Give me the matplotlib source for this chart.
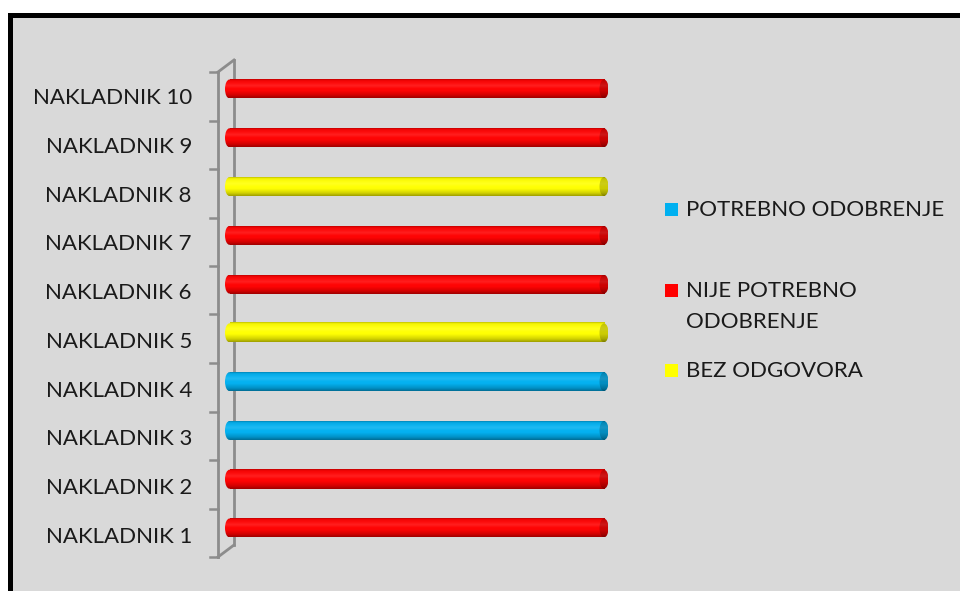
import numpy as np
import matplotlib
matplotlib.use("Agg")
import matplotlib.pyplot as plt
from matplotlib.patches import Rectangle, Ellipse
from matplotlib.lines import Line2D
from matplotlib.colors import to_rgb
from matplotlib.transforms import ScaledTranslation

# ---- data ----
categories = ["NAKLADNIK 1", "NAKLADNIK 2", "NAKLADNIK 3", "NAKLADNIK 4", "NAKLADNIK 5",
              "NAKLADNIK 6", "NAKLADNIK 7", "NAKLADNIK 8", "NAKLADNIK 9", "NAKLADNIK 10"]
values = [1, 1, 1, 1, 1, 1, 1, 1, 1, 1]
status = ["NIJE POTREBNO ODOBRENJE", "NIJE POTREBNO ODOBRENJE", "POTREBNO ODOBRENJE",
          "POTREBNO ODOBRENJE", "BEZ ODGOVORA", "NIJE POTREBNO ODOBRENJE",
          "NIJE POTREBNO ODOBRENJE", "BEZ ODGOVORA", "NIJE POTREBNO ODOBRENJE",
          "NIJE POTREBNO ODOBRENJE"]
legend_labels = ["POTREBNO ODOBRENJE", "NIJE POTREBNO\nODOBRENJE", "BEZ ODGOVORA"]
legend_keys = ["POTREBNO ODOBRENJE", "NIJE POTREBNO ODOBRENJE", "BEZ ODGOVORA"]
colors = {"POTREBNO ODOBRENJE": "#00b0f0",
          "NIJE POTREBNO ODOBRENJE": "#ff0000",
          "BEZ ODGOVORA": "#ffff00"}

W, H = 960, 591
FONT = ["Lato", "DejaVu Sans"]
fig = plt.figure(figsize=(W / 100, H / 100), dpi=100)
fig.patch.set_facecolor("white")

def fx(px):
    return px / W

def fy(py):
    return 1 - py / H

# chart area background with black border (top & left)
fig.patches.append(Rectangle((fx(8), 0), 1, fy(13), transform=fig.transFigure,
                             facecolor="black", edgecolor="none", zorder=-10))
fig.patches.append(Rectangle((fx(13), 0), 1, fy(18), transform=fig.transFigure,
                             facecolor="#d9d9d9", edgecolor="none", zorder=-9))

# axes placement in pixels
ax_l, ax_r, ax_t, ax_b = 210, 620, 60, 560
ax = fig.add_axes([fx(ax_l), fy(ax_b), fx(ax_r - ax_l), (ax_b - ax_t) / H])
ax.set_facecolor("none")
for s in ax.spines.values():
    s.set_visible(False)

# map 0 -> px 225, 1 -> px 604
x0p, x1p = 225, 604
span = (x1p - x0p) / 1.0
a = -(x0p - ax_l) / span
b = a + (ax_r - ax_l) / span
ax.set_xlim(a, b)
# category 0 -> py 528, category 9 -> py 89
pitch = (528 - 89) / 9.0
c = -(ax_b - 528) / pitch
d = c + (ax_b - ax_t) / pitch
ax.set_ylim(c, d)

ypos = np.arange(len(categories))
bar_h = 19 / pitch
bars = ax.barh(ypos, values, height=bar_h, left=0,
               color=[colors[s] for s in status], zorder=2)

ew = 9 / span  # end-cap ellipse width in data units

def gradient_rgb(base, n=64):
    r, g, bb = to_rgb(base)
    base_arr = np.array([r, g, bb])
    t = np.linspace(0, 1, n)  # 0 = top, 1 = bottom
    prof = np.interp(t, [0, 0.07, 0.25, 0.6, 0.85, 1.0],
                        [0.75, 0.95, 1.0, 1.0, 0.82, 0.62])
    hl = np.interp(t, [0, 0.2, 0.35, 0.5, 1.0], [0, 0.05, 0.12, 0.02, 0])
    arr = base_arr[None, :] * prof[:, None]
    arr = arr + (1 - arr) * hl[:, None]
    return np.clip(arr, 0, 1)[:, None, :]

for bar, st in zip(bars, status):
    bx, by = bar.get_x(), bar.get_y()
    bw, bh = bar.get_width(), bar.get_height()
    bar.set_visible(False)
    grad = gradient_rgb(colors[st])
    # left rounded end
    el = Ellipse((bx + ew / 2, by + bh / 2), ew, bh, transform=ax.transData,
                 facecolor="none", edgecolor="none")
    ax.add_patch(el)
    im = ax.imshow(grad, extent=(bx, bx + ew, by, by + bh), aspect="auto",
                   origin="upper", zorder=2, interpolation="bilinear")
    im.set_clip_path(el)
    # body
    ax.imshow(grad, extent=(bx + ew / 2, bx + bw, by, by + bh), aspect="auto",
              origin="upper", zorder=2, interpolation="bilinear")
    # right end cap (darker face)
    er = Ellipse((bx + bw, by + bh / 2), ew, bh, transform=ax.transData,
                 facecolor="none", edgecolor="none")
    ax.add_patch(er)
    dark = np.clip(grad * 0.8, 0, 1)
    im2 = ax.imshow(dark, extent=(bx + bw - ew / 2, bx + bw + ew / 2, by, by + bh),
                    aspect="auto", origin="upper", zorder=3, interpolation="bilinear")
    im2.set_clip_path(er)

ax.set_xticks([])
ax.set_yticks(ypos)
ax.set_yticklabels(categories, fontsize=16, family=FONT, color="#1a1a1a")
ax.tick_params(axis="y", length=0, pad=13)
shift = ScaledTranslation(0, -7 / 100, fig.dpi_scale_trans)
for lab in ax.get_yticklabels():
    lab.set_transform(lab.get_transform() + shift)

# 3D wall lines (decoration, behind the bars)
lc = "#8c8c8c"
def fline(xs, ys, lw=2.0):
    fig.add_artist(Line2D([fx(x) for x in xs], [fy(y) for y in ys],
                          transform=fig.transFigure, color=lc, lw=lw, zorder=-1))
fline([218, 218], [72, 557])
fline([234, 234], [60, 545])
fline([218, 234], [72, 60])
fline([218, 234], [557, 545])
for k in range(11):
    ty = 72 + k * 48.5
    fline([210, 218], [ty, ty], lw=1.8)

# legend (manual)
leg_items = [(210, 0), (291, 1), (371, 2)]
for py, i in leg_items:
    key = legend_keys[i]
    fig.patches.append(Rectangle((fx(665), fy(py + 6)), fx(13), 13 / H,
                                 transform=fig.transFigure,
                                 facecolor=colors[key], edgecolor="none"))
    fig.text(fx(686), fy(py - 10), legend_labels[i], fontsize=16, family=FONT,
             color="#1a1a1a", va="top", ha="left", linespacing=1.7)

fig.savefig("out.png", dpi=100, facecolor=fig.get_facecolor())
